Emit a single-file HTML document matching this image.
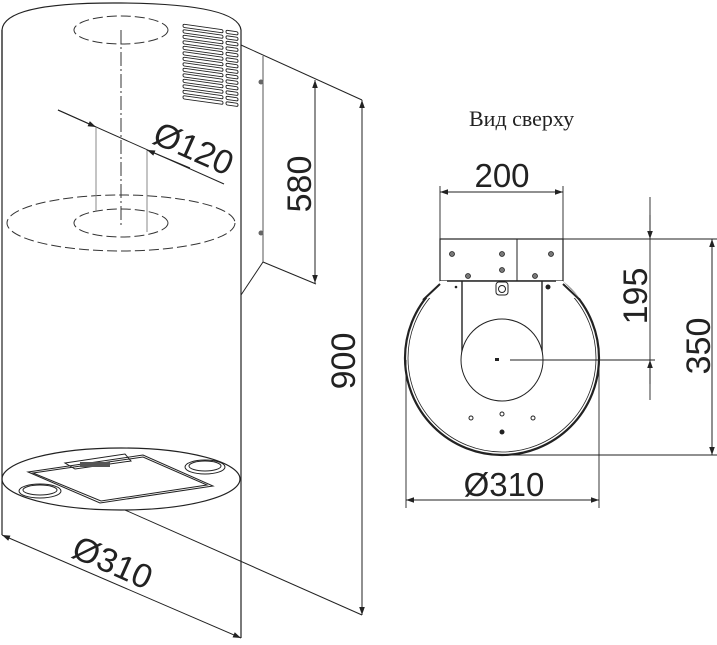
<!DOCTYPE html>
<html><head><meta charset="utf-8"><style>
html,body{margin:0;padding:0;background:#fff;}
svg{display:block;}
text{font-family:"Liberation Sans",sans-serif;fill:#222;}
</style></head><body>
<svg width="717" height="645" viewBox="0 0 717 645" xmlns="http://www.w3.org/2000/svg">
<defs>
<marker id="a" viewBox="0 0 10 10" refX="10" refY="5" markerWidth="14" markerHeight="8" markerUnits="userSpaceOnUse" orient="auto-start-reverse"><path d="M0,1.5 L10,5 L0,8.5 z" fill="#222"/></marker>
</defs>
<g fill="none" stroke="#222" stroke-width="1.2">
<path d="M2,90 L2,30 Q4,2 121,3 Q238,4 241,30 L241,638"/>
<line x1="2" y1="30" x2="2" y2="535"/>
<ellipse cx="121" cy="479" rx="119" ry="31"/>
</g>
<g fill="none" stroke="#333" stroke-width="1" stroke-dasharray="10,4">
<ellipse cx="121" cy="30" rx="47" ry="14"/>
<ellipse cx="121" cy="223" rx="114" ry="28"/>
<ellipse cx="121" cy="223" rx="47" ry="14"/>
</g>
<line x1="121" y1="30" x2="121" y2="228" stroke="#333" stroke-width="1" stroke-dasharray="14,3,2,3"/>
<line x1="96" y1="128" x2="96" y2="212" stroke="#888" stroke-width="1"/>
<line x1="147" y1="150" x2="147" y2="232" stroke="#888" stroke-width="1"/>
<line x1="58" y1="110" x2="224" y2="184" stroke="#222" stroke-width="1"/>
<line x1="58" y1="110" x2="96" y2="127" stroke="#222" marker-end="url(#a)"/>
<line x1="190" y1="168" x2="147" y2="150" stroke="#222" marker-end="url(#a)"/>
<text x="193" y="160" font-size="34" transform="rotate(24 193 150)" text-anchor="middle">Ø120</text>
<g fill="none" stroke="#222" stroke-width="0.9" transform="translate(0,-25.6) skewY(8)">
<g id="sl">
<rect x="183" y="24" width="40" height="3.2" rx="1.5"/>
<rect x="226" y="24" width="12" height="3.2" rx="1.5"/>
</g>
<use href="#sl" y="5.5"/><use href="#sl" y="11"/><use href="#sl" y="16.5"/><use href="#sl" y="22"/><use href="#sl" y="27.5"/><use href="#sl" y="33"/><use href="#sl" y="38.5"/><use href="#sl" y="44"/><use href="#sl" y="49.5"/><use href="#sl" y="55"/><use href="#sl" y="60.5"/><use href="#sl" y="66"/><use href="#sl" y="71.5"/>
</g>
<g fill="none" stroke="#222" stroke-width="1">
<line x1="241" y1="45" x2="362" y2="100"/>
<line x1="263" y1="56" x2="263" y2="262" stroke="#555"/>
<line x1="263" y1="262" x2="316" y2="284"/>
<line x1="263" y1="262" x2="241" y2="295"/>
<line x1="125" y1="510" x2="362" y2="615"/>
</g>
<circle cx="261" cy="82" r="2.5" fill="#666"/>
<circle cx="261" cy="233" r="2.5" fill="#666"/>
<line x1="315" y1="80" x2="315" y2="283" stroke="#222" marker-start="url(#a)" marker-end="url(#a)"/>
<text x="300" y="184" font-size="34" transform="rotate(-90 300 184)" text-anchor="middle" dominant-baseline="central">580</text>
<line x1="362" y1="100" x2="362" y2="615" stroke="#222" marker-start="url(#a)" marker-end="url(#a)"/>
<rect x="328" y="330" width="32" height="62" fill="#fff"/>
<text x="344" y="361" font-size="34" transform="rotate(-90 344 361)" text-anchor="middle" dominant-baseline="central">900</text>
<g fill="none" stroke="#222" stroke-width="1">
<path d="M28,472 L143,455 L213,486 L100,503 Z"/>
<path d="M33,473 L143,457 L207,485 L101,501 Z"/>
<path d="M65,463 L125,454 L131,461 L75,469 Z"/>
<ellipse cx="40" cy="491" rx="21" ry="7"/>
<ellipse cx="40" cy="490" rx="17" ry="5"/>
<ellipse cx="205" cy="467" rx="20" ry="7"/>
<ellipse cx="205" cy="466" rx="16" ry="5"/>
</g>
<rect x="80" y="462" width="30" height="5" fill="#555"/>
<line x1="2" y1="535" x2="241" y2="638" stroke="#222" marker-start="url(#a)" marker-end="url(#a)"/>
<text x="112" y="574" font-size="34" transform="rotate(24 112 564)" text-anchor="middle">Ø310</text>

<text x="469" y="126" font-size="22" style="font-family:'Liberation Serif',serif">Вид сверху</text>
<g fill="none" stroke="#222">
<circle cx="502" cy="358" r="97" stroke-width="2.2"/>
<circle cx="502" cy="358" r="94" stroke-width="0.8"/>
</g>
<rect x="440" y="239" width="123" height="42" fill="#fff" stroke="#222" stroke-width="1.2"/>
<polygon points="440,281 563,281 580,298 423,298" fill="#fff"/>
<path d="M440,284 L423,300 M563,284 L580,300" stroke="#222" stroke-width="2"/>
<line x1="447" y1="281" x2="556" y2="281" stroke="#222" stroke-width="1.4"/>
<line x1="517" y1="239" x2="517" y2="281" stroke="#222"/>
<line x1="462" y1="281" x2="462" y2="360" stroke="#222" stroke-width="1.4"/>
<line x1="542" y1="281" x2="542" y2="360" stroke="#222" stroke-width="1.4"/>
<circle cx="502" cy="360" r="41" fill="#fff" stroke="#222"/>
<g fill="#777" stroke="#222" stroke-width="0.8">
<circle cx="452" cy="254" r="2.5"/><circle cx="502" cy="254" r="2.5"/><circle cx="551" cy="254" r="2.5"/>
<circle cx="502" cy="270" r="2.5"/><circle cx="468" cy="276" r="2.5"/><circle cx="535" cy="276" r="2.5"/>
</g>
<rect x="496" y="282" width="12" height="13" rx="3" fill="#fff" stroke="#222"/>
<circle cx="502" cy="289" r="3.5" fill="none" stroke="#222"/>
<circle cx="456" cy="287" r="1.3" fill="#222"/>
<circle cx="548" cy="287" r="2.5" fill="#222"/>
<g fill="#fff" stroke="#222">
<circle cx="471" cy="418" r="2"/><circle cx="502" cy="414" r="2"/><circle cx="533" cy="418" r="2"/>
</g>
<circle cx="502" cy="432" r="2.5" fill="#222"/>
<rect x="495" y="358" width="4" height="3" fill="#222"/>
<g stroke="#222" stroke-width="0.9">
<line x1="440" y1="239" x2="440" y2="186"/>
<line x1="563" y1="239" x2="563" y2="186"/>
<line x1="563" y1="239" x2="717" y2="239"/>
<line x1="510" y1="360" x2="655" y2="360"/>
<line x1="502" y1="455" x2="717" y2="455"/>
<line x1="406" y1="360" x2="406" y2="508"/>
<line x1="599" y1="360" x2="599" y2="508"/>
<line x1="650" y1="197" x2="650" y2="400"/>
</g>
<line x1="440" y1="192" x2="563" y2="192" stroke="#222" marker-start="url(#a)" marker-end="url(#a)"/>
<text x="502" y="187" font-size="33" text-anchor="middle">200</text>
<line x1="650" y1="215" x2="650" y2="239" stroke="#222" marker-end="url(#a)"/>
<line x1="650" y1="384" x2="650" y2="360" stroke="#222" marker-end="url(#a)"/>
<text x="636" y="296" font-size="34" transform="rotate(-90 636 296)" text-anchor="middle" dominant-baseline="central">195</text>
<line x1="712" y1="239" x2="712" y2="455" stroke="#222" marker-start="url(#a)" marker-end="url(#a)"/>
<text x="699" y="346" font-size="34" transform="rotate(-90 699 346)" text-anchor="middle" dominant-baseline="central">350</text>
<line x1="406" y1="500" x2="599" y2="500" stroke="#222" marker-start="url(#a)" marker-end="url(#a)"/>
<text x="504" y="496" font-size="33" text-anchor="middle">Ø310</text>
</svg>
</body></html>
